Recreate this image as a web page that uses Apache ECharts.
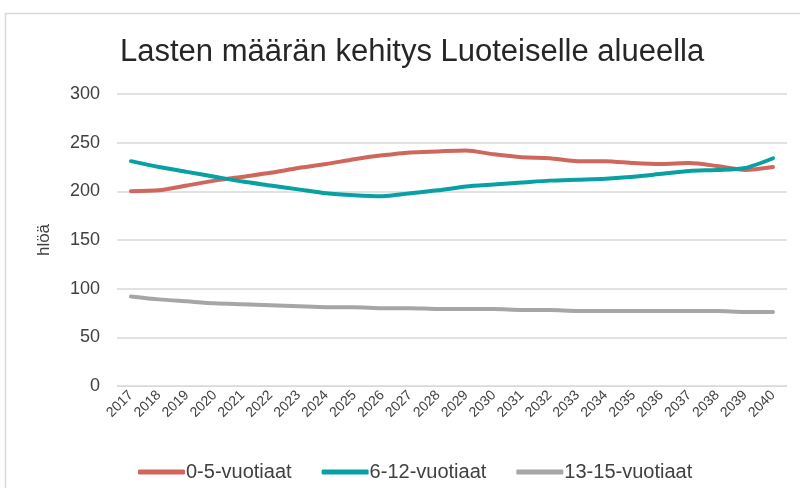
<!DOCTYPE html>
<html>
  <head>
    <meta charset="UTF-8">
    <title>Lasten määrän kehitys</title>
    <script src="https://cdn.jsdelivr.net/npm/echarts@6/dist/echarts.min.js"></script>
  </head>
  <body style="margin:0">
    <div id="myChart" style="width:800px;height:488px;"></div>
    <script type="text/javascript">
      // vuodet
      var years = ['2017','2018','2019','2020','2021','2022','2023','2024','2025','2026','2027','2028',
                   '2029','2030','2031','2032','2033','2034','2035','2036','2037','2038','2039','2040'];
      var age0_5   = [200, 201, 206, 211, 215, 219, 224, 228, 233, 237, 240, 241,
                      242, 238, 235, 234, 231, 231, 229, 228, 229, 226, 222, 225];
      var age6_12  = [231, 225, 220, 215, 210, 206, 202, 198, 196, 195, 198, 201,
                      205, 207, 209, 211, 212, 213, 215, 218, 221, 222, 224, 234];
      var age13_15 = [92, 89, 87, 85, 84, 83, 82, 81, 81, 80, 80, 79,
                      79, 79, 78, 78, 77, 77, 77, 77, 77, 77, 76, 76];
      var yTicks = [0, 50, 100, 150, 200, 250, 300];

      var myChart = echarts.init(document.getElementById('myChart'));
      var font = 'Liberation Sans, Arial, sans-serif';

      function line(name, data, color) {
        return {
          name: name,
          type: 'line',
          data: data,
          smooth: 0.25,
          symbol: 'none',
          lineStyle: { width: 4, color: color, cap: 'round' },
          itemStyle: { color: color }
        };
      }

      var option = {
        animation: false,
        backgroundColor: '#fff',
        title: {
          text: 'Lasten määrän kehitys Luoteiselle alueella',
          left: 115,
          top: 32,
          textStyle: { fontFamily: font, fontSize: 31, fontWeight: 'normal', color: '#262626' }
        },
        graphic: [{
          type: 'rect',
          shape: { x: 5.5, y: 13.5, width: 820, height: 500 },
          style: { fill: 'none', stroke: '#d9d9d9', lineWidth: 1.5 },
          silent: true
        }],
        grid: { left: 117, right: 13, top: 94, bottom: 102 },
        legend: {
          top: 457,
          left: 133,
          itemWidth: 47,
          itemHeight: 5,
          itemGap: 30,
          icon: 'roundRect',
          textStyle: { fontFamily: font, fontSize: 20, color: '#404040', padding: [0, 0, 0, -4] },
          data: ['0-5-vuotiaat', '6-12-vuotiaat', '13-15-vuotiaat']
        },
        xAxis: {
          type: 'category',
          data: years,
          boundaryGap: true,
          axisLine: { lineStyle: { color: '#d9d9d9' } },
          axisTick: { show: false },
          axisLabel: { rotate: 45, interval: 0, fontFamily: font, fontSize: 14, color: '#404040', margin: 7 }
        },
        yAxis: {
          type: 'value',
          min: yTicks[0],
          max: yTicks[yTicks.length - 1],
          interval: 50,
          name: 'hlöä',
          nameLocation: 'middle',
          nameGap: 64,
          nameRotate: 90,
          nameTextStyle: { fontFamily: font, fontSize: 17, color: '#404040' },
          axisLine: { show: false },
          axisTick: { show: false },
          axisLabel: { fontFamily: font, fontSize: 18, color: '#404040', margin: 17 },
          splitLine: { lineStyle: { color: '#d9d9d9', width: 1.5 } }
        },
        series: [
          line('0-5-vuotiaat', age0_5, '#d0675d'),
          line('6-12-vuotiaat', age6_12, '#07a0a3'),
          line('13-15-vuotiaat', age13_15, '#a6a6a6')
        ]
      };
      myChart.setOption(option);
    </script>
  </body>
</html>
